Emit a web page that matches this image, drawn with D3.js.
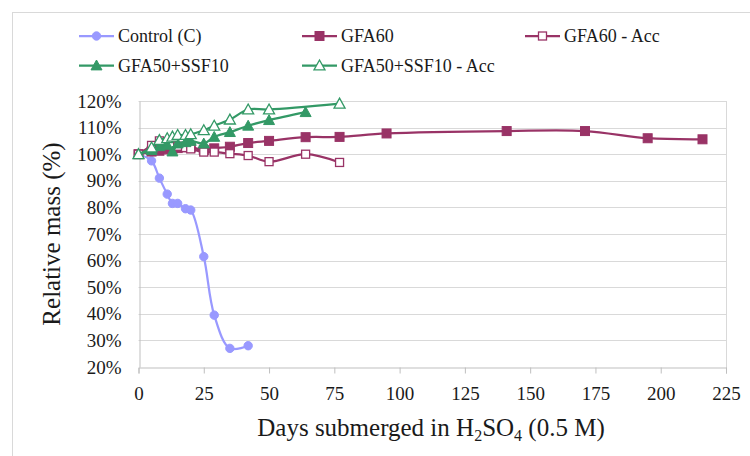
<!DOCTYPE html>
<html><head><meta charset="utf-8">
<script src="https://cdn.jsdelivr.net/npm/d3@7/dist/d3.min.js"></script>
<style>body{margin:0;background:#fff;} svg{display:block;} svg text{font-family:"Liberation Serif","Times New Roman",serif !important;}</style>
</head><body><svg id="c" width="750" height="456"></svg>
<script>
const seriesNames = ["Control (C)", "GFA60", "GFA60 - Acc", "GFA50+SSF10", "GFA50+SSF10 - Acc"];
const controlDays = [0, 5, 8, 11, 13, 15, 18, 20, 25, 29, 35, 42];
const controlValues = [100, 97.5, 91, 85, 81.5, 81.5, 79.5, 79, 61.5, 39.5, 27, 28];
const gfa60Days = [0, 5, 8, 11, 13, 15, 18, 20, 25, 29, 35, 42, 50, 64, 77, 95, 141, 171, 195, 216];
const gfa60Values = [100, 101, 101.3, 101.8, 102, 102.3, 102.6, 102.6, 101.6, 102.2, 102.8, 104.2, 105, 106.4, 106.5, 107.8, 108.7, 108.7, 106, 105.6];
const gfa60AccDays = [0, 5, 8, 11, 13, 15, 18, 20, 25, 29, 35, 42, 50, 64, 77];
const gfa60AccValues = [100, 103.3, 105, 104, 103.5, 103, 102.5, 102, 100.8, 100.8, 100.2, 99.5, 97.2, 100, 96.9];
const gfa50Days = [0, 5, 8, 11, 13, 15, 18, 20, 25, 29, 35, 42, 50, 64];
const gfa50Values = [100, 101.5, 103, 103.5, 101, 104, 104.5, 105, 104, 106.5, 108.3, 110.7, 112.8, 115.8];
const gfa50AccDays = [0, 5, 8, 11, 13, 15, 18, 20, 25, 29, 35, 42, 50, 77];
const gfa50AccValues = [100, 102.5, 105.3, 106, 106.6, 107.2, 107.2, 107.5, 109, 110.7, 113, 116.8, 116.8, 119];
const xTicks = [0, 25, 50, 75, 100, 125, 150, 175, 200, 225];
const yTicks = [20, 30, 40, 50, 60, 70, 80, 90, 100, 110, 120];

const FONT = "Liberation Serif, Times New Roman, serif";
const svg = d3.select("#c");
const L = 138.5, R = 726, T = 101, B = 367;
const x = d3.scaleLinear().domain([0, 225]).range([L, R]);
const y = d3.scaleLinear().domain([20, 120]).range([B, T]);

// chart border
svg.append("rect").attr("x", 12.5).attr("y", 12.5).attr("width", 800).attr("height", 500)
  .attr("fill", "none").attr("stroke", "#d9d9d9").attr("stroke-width", 1);

// gridlines
svg.append("g").selectAll("line").data(yTicks.slice(1)).join("line")
  .attr("x1", L).attr("x2", R).attr("y1", d => Math.round(y(d)) + 0.5).attr("y2", d => Math.round(y(d)) + 0.5)
  .attr("stroke", "#d9d9d9").attr("stroke-width", 1);
// right border line
svg.append("line").attr("x1", R + 0.5).attr("x2", R + 0.5).attr("y1", T).attr("y2", B + 6)
  .attr("stroke", "#d9d9d9");

// x axis
const xAxis = svg.append("g").attr("transform", `translate(0,${Math.round(B) + 0.5})`)
  .call(d3.axisBottom(x).tickValues(xTicks).tickSize(6).tickPadding(13).tickFormat(d3.format("d")));
xAxis.attr("font-family", FONT);
xAxis.select(".domain").attr("stroke", "#bfbfbf");
xAxis.selectAll(".tick line").attr("stroke", "#bfbfbf");
xAxis.selectAll("text").attr("font-size", 19).attr("fill", "#1a1a1a").attr("font-family", FONT);

// y axis
const yAxis = svg.append("g").attr("transform", `translate(${Math.round(L) + 0.5},0)`)
  .call(d3.axisLeft(y).tickValues(yTicks).tickSize(0).tickPadding(18).tickFormat(d => d + "%"));
yAxis.attr("font-family", FONT);
yAxis.select(".domain").attr("stroke", "#bfbfbf");
yAxis.selectAll("text").attr("font-size", 19).attr("fill", "#1a1a1a").attr("font-family", FONT);

// axis titles
svg.append("text").attr("transform", "translate(60,234) rotate(-90)").attr("text-anchor", "middle")
  .attr("font-family", FONT).attr("font-size", 25).attr("fill", "#1a1a1a").text("Relative mass (%)");
const xt = svg.append("text").attr("x", 431).attr("y", 436).attr("text-anchor", "middle")
  .attr("font-family", FONT).attr("font-size", 25).attr("fill", "#1a1a1a");
xt.append("tspan").text("Days submerged in H");
xt.append("tspan").attr("font-size", 16).attr("dy", 5).text("2");
xt.append("tspan").attr("dy", -5).text("SO");
xt.append("tspan").attr("font-size", 16).attr("dy", 5).text("4");
xt.append("tspan").attr("dy", -5).text(" (0.5 M)");

const purple = "#9999ff", plum = "#993366", green = "#339966";
const series = [
  {name: seriesNames[0], days: controlDays, vals: controlValues, color: purple, shape: "circle", fill: true},
  {name: seriesNames[1], days: gfa60Days, vals: gfa60Values, color: plum, shape: "square", fill: true},
  {name: seriesNames[2], days: gfa60AccDays, vals: gfa60AccValues, color: plum, shape: "square", fill: false},
  {name: seriesNames[3], days: gfa50Days, vals: gfa50Values, color: green, shape: "triangle", fill: true},
  {name: seriesNames[4], days: gfa50AccDays, vals: gfa50AccValues, color: green, shape: "triangle", fill: false}
];

function marker(g, s, cx, cy) {
  let m;
  if (s.shape === "circle") {
    m = g.append("circle").attr("cx", cx).attr("cy", cy).attr("r", 4.2);
  } else if (s.shape === "square") {
    const h = s.fill ? 4.5 : 4;
    m = g.append("rect").attr("x", cx - h).attr("y", cy - h).attr("width", 2 * h).attr("height", 2 * h);
  } else {
    const h = 5.5;
    m = g.append("path").attr("d", `M${cx},${cy - h}L${cx + h},${cy + h * 0.8}L${cx - h},${cy + h * 0.8}Z`);
  }
  m.attr("fill", s.fill ? s.color : "#fff").attr("stroke", s.color).attr("stroke-width", s.fill ? 1 : 1.3);
}

const line = d3.line().x(d => x(d[0])).y(d => y(d[1])).curve(d3.curveCatmullRom.alpha(0.5));
series.forEach(s => {
  const pts = s.days.map((d, i) => [d, s.vals[i]]);
  const g = svg.append("g");
  g.append("path").attr("d", line(pts)).attr("fill", "none").attr("stroke", s.color).attr("stroke-width", 2.25);
  pts.forEach(p => marker(g, s, x(p[0]), y(p[1])));
});

// legend
const legPos = [[79, 36], [302, 36], [525, 36], [79, 65.5], [302, 65.5]];
series.forEach((s, i) => {
  const [lx, ly] = legPos[i];
  const g = svg.append("g");
  g.append("line").attr("x1", lx).attr("x2", lx + 35).attr("y1", ly).attr("y2", ly)
    .attr("stroke", s.color).attr("stroke-width", 2.25);
  marker(g, s, lx + 17.5, ly);
  g.append("text").attr("x", lx + 39).attr("y", ly).attr("dy", "0.35em").attr("font-size", 18)
    .attr("font-family", FONT).attr("fill", "#1a1a1a").text(s.name);
});
</script></body></html>
